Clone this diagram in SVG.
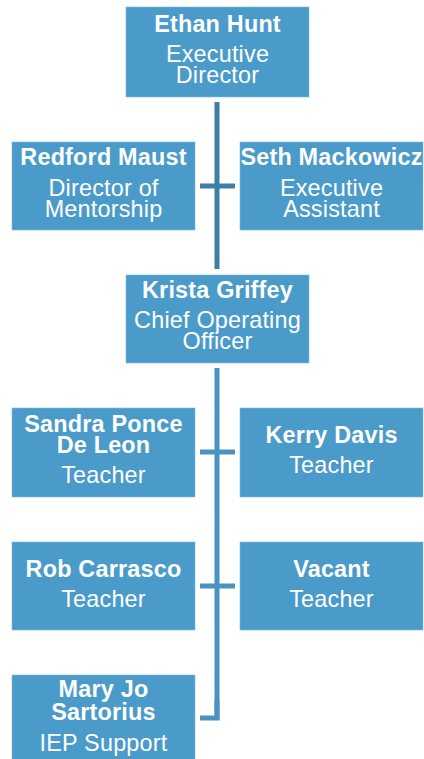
<svg xmlns="http://www.w3.org/2000/svg" width="424" height="759" viewBox="0 0 424 759">
<style>
.box{fill:#4a9bc9;stroke:#7fbbe0;stroke-width:0.6}
text{font-family:"Liberation Sans",Arial,Helvetica,sans-serif;fill:#ffffff;text-anchor:middle;font-size:23.4px;letter-spacing:0.2px}
.n{font-weight:bold}
.c1{stroke:#3e7ea6;stroke-width:5;fill:none}
.c2{stroke:#4a92c2;stroke-width:5;fill:none}
</style>
<rect width="424" height="759" fill="#ffffff"/>
<g id="connectors">
<line class="c1" x1="217" y1="102" x2="217" y2="269"/>
<line class="c1" x1="200" y1="186" x2="235" y2="186"/>
<line class="c2" x1="217" y1="368" x2="217" y2="720"/>
<line class="c2" x1="200" y1="452" x2="235" y2="452"/>
<line class="c2" x1="200" y1="586" x2="235" y2="586"/>
<polyline class="c2" points="200,718 217,718 217,700"/>
</g>
<g id="ethan">
<rect class="box" x="126" y="7" width="183" height="90"/>
<text class="n" x="217.5" y="32">Ethan Hunt</text>
<text x="217.5" y="62">Executive</text>
<text x="217.5" y="83">Director</text>
</g>
<g id="redford">
<rect class="box" x="12" y="142" width="183" height="88"/>
<text class="n" x="103.5" y="165">Redford Maust</text>
<text x="103.5" y="196">Director of</text>
<text x="103.5" y="217">Mentorship</text>
</g>
<g id="seth">
<rect class="box" x="240" y="142" width="183" height="88"/>
<text class="n" x="331.5" y="165">Seth Mackowicz</text>
<text x="331.5" y="196">Executive</text>
<text x="331.5" y="217">Assistant</text>
</g>
<g id="krista">
<rect class="box" x="126" y="275" width="183" height="88"/>
<text class="n" x="217.5" y="298">Krista Griffey</text>
<text x="217.5" y="328">Chief Operating</text>
<text x="217.5" y="349">Officer</text>
</g>
<g id="sandra">
<rect class="box" x="12" y="408" width="183" height="89"/>
<text class="n" x="103.5" y="432">Sandra Ponce</text>
<text class="n" x="103.5" y="453">De Leon</text>
<text x="103.5" y="483">Teacher</text>
</g>
<g id="kerry">
<rect class="box" x="240" y="408" width="183" height="89"/>
<text class="n" x="331.5" y="443">Kerry Davis</text>
<text x="331.5" y="473">Teacher</text>
</g>
<g id="rob">
<rect class="box" x="12" y="542" width="183" height="88"/>
<text class="n" x="103.5" y="577">Rob Carrasco</text>
<text x="103.5" y="607">Teacher</text>
</g>
<g id="vacant">
<rect class="box" x="240" y="542" width="183" height="88"/>
<text class="n" x="331.5" y="577">Vacant</text>
<text x="331.5" y="607">Teacher</text>
</g>
<g id="maryjo">
<rect class="box" x="12" y="675" width="183" height="90"/>
<text class="n" x="103.5" y="697">Mary Jo</text>
<text class="n" x="103.5" y="720">Sartorius</text>
<text x="103.5" y="751">IEP Support</text>
</g>
</svg>
